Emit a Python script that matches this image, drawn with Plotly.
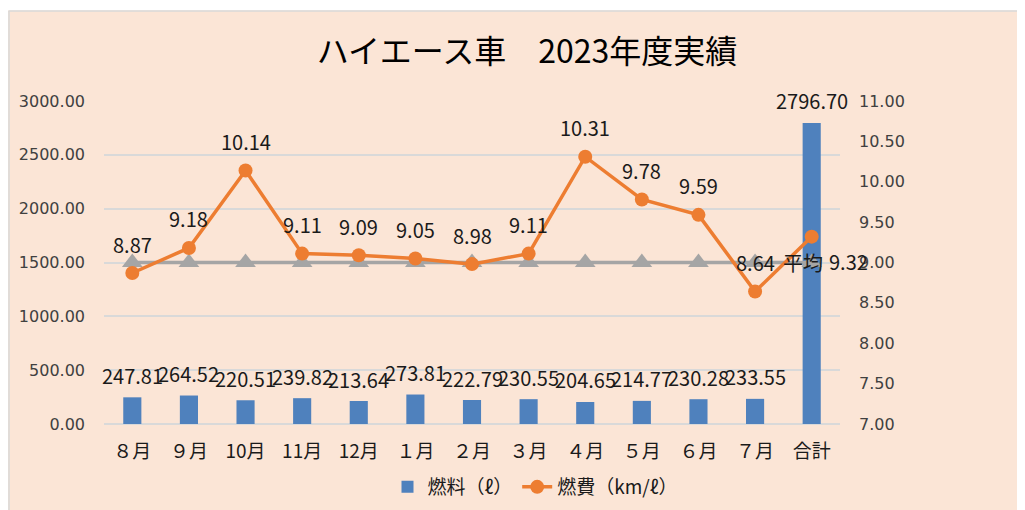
import plotly.graph_objects as go

categories = ["８月", "９月", "10月", "11月", "12月", "１月", "２月", "３月", "４月", "５月", "６月", "７月", "合計"]
fuel_liters = [247.81, 264.52, 220.51, 239.82, 213.64, 273.81, 222.79, 230.55, 204.65, 214.77, 230.28, 233.55, 2796.70]
fuel_economy = [8.87, 9.18, 10.14, 9.11, 9.09, 9.05, 8.98, 9.11, 10.31, 9.78, 9.59, 8.64, 9.32]
average_line = [9.0] * 13

FONT = "Noto Sans CJK JP"
BG = "#FBE5D6"
ORANGE = "#ED7D31"
BLUE = "#4F81BD"
GRAY = "#A5A5A5"

fig = go.Figure()
fig.add_trace(go.Bar(
    x=categories, y=fuel_liters, name="燃料（ℓ）",
    marker=dict(color=BLUE, line=dict(width=0)), width=0.32,
))
fig.add_trace(go.Scatter(
    x=categories, y=average_line, yaxis="y2", name="平均", showlegend=False,
    mode="lines+markers", line=dict(color=GRAY, width=3.5),
    marker=dict(symbol="triangle-up", size=18, color=GRAY),
))
fig.add_trace(go.Scatter(
    x=categories, y=fuel_economy, yaxis="y2", name="燃費（km/ℓ）",
    mode="lines+markers", line=dict(color=ORANGE, width=3.5),
    marker=dict(symbol="circle", size=14, color=ORANGE),
))

annotations = []
for c, v in zip(categories, fuel_liters):
    annotations.append(dict(x=c, y=v, xref="x", yref="y", text=f"{v:.2f}",
                            showarrow=False, yshift=22,
                            font=dict(family=FONT, size=20, color="#1a1a1a")))
for i, (c, v) in enumerate(zip(categories, fuel_economy)):
    if i == len(categories) - 1:
        xs, ys = 37, -25
    else:
        xs, ys = 0, 29
    annotations.append(dict(x=c, y=v, xref="x", yref="y2", text=f"{v:.2f}",
                            showarrow=False, xshift=xs, yshift=ys,
                            font=dict(family=FONT, size=20, color="#1a1a1a")))
annotations.append(dict(x=categories[-1], y=average_line[-1], xref="x", yref="y2",
                        text="平均", showarrow=False, xshift=-9,
                        font=dict(family=FONT, size=20, color="#1a1a1a")))

# page has an 8px body margin; positions below are given in reference-screen pixels
def px_x(px):
    return (px - 104) / 736

def px_y(py):
    return (424 - py) / 323

shapes = [
    dict(type="rect", xref="paper", yref="paper", x0=px_x(-5), x1=px_x(1040),
         y0=px_y(10.5), y1=px_y(-5), fillcolor="white", line=dict(width=0), layer="above"),
    dict(type="line", xref="paper", yref="paper", x0=px_x(8.5), x1=px_x(1040),
         y0=px_y(11), y1=px_y(11), line=dict(color="#D9D9D9", width=1.5), layer="above"),
    dict(type="line", xref="paper", yref="paper", x0=px_x(9), x1=px_x(9),
         y0=px_y(11), y1=px_y(530), line=dict(color="#D9D9D9", width=1.5), layer="above"),
]

fig.update_layout(
    width=1025, height=510,
    margin=dict(l=96, r=193, t=93, b=94, autoexpand=False),
    paper_bgcolor=BG, plot_bgcolor=BG,
    title=dict(text="ハイエース車　2023年度実績", x=519 / 1025, xanchor="center",
               y=1 - 44 / 510, yanchor="middle", yref="container",
               font=dict(family=FONT, size=32, color="#000000")),
    font=dict(family=FONT, color="#404040"),
    xaxis=dict(type="category", range=[-0.5, 12.5], showgrid=False, showline=False,
               zeroline=False, ticks="", ticklabelstandoff=14, automargin=False,
               tickfont=dict(family=FONT, size=19, color="#1a1a1a")),
    yaxis=dict(range=[0, 3000], dtick=500, tickformat=".2f", showgrid=True,
               gridcolor="#D9D9D9", gridwidth=1.5, zeroline=True, zerolinecolor="#D9D9D9",
               zerolinewidth=1.5, showline=False, ticks="", ticklabelstandoff=18,
               automargin=False,
               tickfont=dict(family="DejaVu Sans", size=16, color="#404040")),
    yaxis2=dict(range=[7, 11], dtick=0.5, tickformat=".2f", overlaying="y", side="right",
                showgrid=False, zeroline=False, showline=False, ticks="",
                ticklabelstandoff=18, automargin=False,
                tickfont=dict(family="DejaVu Sans", size=16, color="#404040")),
    legend=dict(orientation="h", x=px_x(535), xanchor="center", y=px_y(487),
                yanchor="middle", bgcolor="rgba(0,0,0,0)",
                font=dict(family=FONT, size=19, color="#1a1a1a"), traceorder="normal"),
    annotations=annotations,
    shapes=shapes,
    showlegend=True,
)

fig.write_html("out.html")
